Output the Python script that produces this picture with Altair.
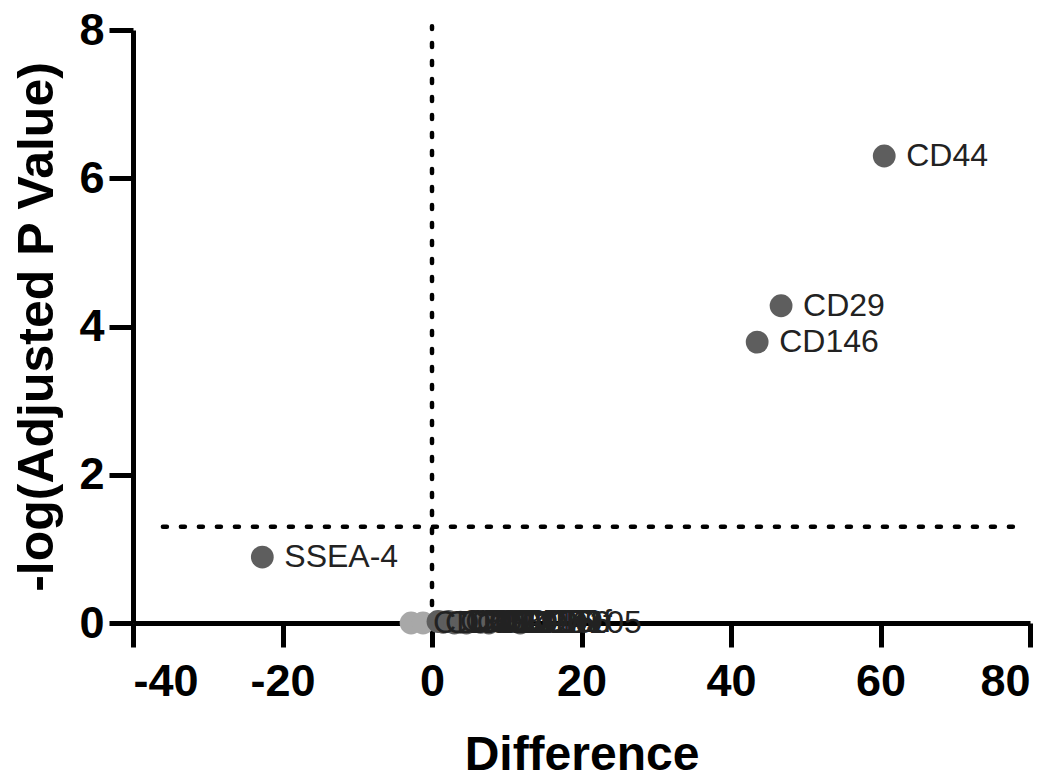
import altair as alt
import pandas as pd

# Main labelled points
markers = ["CD44", "CD29", "CD146", "SSEA-4"]
difference = [60.5, 46.7, 43.5, -22.7]
neglog_p = [6.3, 4.28, 3.79, 0.89]

# Cluster of non-significant markers at ~0
cluster_markers = ["CD34", "CD45", "CD73", "CD90", "CD14", "CD19", "HLA-DR", "CD11b", "CD106", "CD271", "CD166", "CD49f", "CD105"]
cluster_difference = [-2.8, -1.2, 0.8, 1.5, 2.2, 3.0, 3.8, 4.6, 5.5, 6.5, 7.6, 9.0, 11.8]
cluster_neglog_p = [0.0, 0.0, 0.02, 0.01, 0.02, 0.0, 0.01, 0.0, 0.02, 0.01, 0.0, 0.02, 0.0]
cluster_shade = ["light", "light", "dark", "dark", "dark", "dark", "dark", "dark", "dark", "dark", "dark", "dark", "dark"]

# Reference lines
threshold_y = [1.3]
threshold_x_span = [-36, 78]
zero_x = [0]
zero_y_span = [0, 8.05]

x_ticks = [-40, -20, 0, 20, 40, 60, 80]
y_ticks = [0, 2, 4, 6, 8]

pts = pd.DataFrame({
    "marker": markers + cluster_markers,
    "diff": difference + cluster_difference,
    "p": neglog_p + cluster_neglog_p,
    "shade": ["dark"] * len(markers) + cluster_shade,
})

xs = alt.Scale(domain=[-40, 80], nice=False, zero=False)
ys = alt.Scale(domain=[0, 8], nice=False, zero=False)

font = "Liberation Sans"

hline = alt.Chart(pd.DataFrame({"y": threshold_y, "x": [threshold_x_span[0]], "x2": [threshold_x_span[1]]})).mark_rule(
    color="black", strokeWidth=4.5, strokeDash=[4, 14], strokeCap="round"
).encode(x=alt.X("x:Q", scale=xs), x2="x2:Q", y=alt.Y("y:Q", scale=ys))

vline = alt.Chart(pd.DataFrame({"x": zero_x, "y": [zero_y_span[0]], "y2": [zero_y_span[1]]})).mark_rule(
    color="black", strokeWidth=4.5, strokeDash=[4, 14], strokeCap="round"
).encode(x=alt.X("x:Q", scale=xs), y=alt.Y("y:Q", scale=ys), y2="y2:Q")

points = alt.Chart(pts).mark_point(filled=True, size=520, opacity=1, shape="circle").encode(
    x=alt.X("diff:Q", scale=xs, title="Difference",
            axis=alt.Axis(values=x_ticks, grid=False, domainWidth=5, domainColor="black",
                          labelExpr="datum.value < 0 ? '-' + abs(datum.value) : '' + datum.value",
                          tickWidth=5, tickSize=24, tickColor="black", labelFontSize=45, labelFont=font,
                          labelFontWeight="bold", labelColor="black", labelPadding=12, titleFontSize=48,
                          titleFont=font, titleFontWeight="bold", titleColor="black", titlePadding=27)),
    y=alt.Y("p:Q", scale=ys, title="-log(Adjusted P Value)",
            axis=alt.Axis(values=y_ticks, grid=False, domainWidth=5, domainColor="black", format="d",
                          tickWidth=5, tickSize=24, tickColor="black", labelFontSize=45, labelFont=font,
                          labelFontWeight="bold", labelColor="black", labelPadding=5, titleFontSize=50,
                          titleFont=font, titleFontWeight="bold", titleColor="black", titlePadding=16)),
    color=alt.Color("shade:N", scale=alt.Scale(domain=["dark", "light"], range=["#5e5e5e", "#a8a8a8"]), legend=None),
)

labels = alt.Chart(pts).mark_text(align="left", baseline="middle", dx=22, fontSize=32, font=font, color="#222222").encode(
    x=alt.X("diff:Q", scale=xs), y=alt.Y("p:Q", scale=ys), text="marker:N"
)

chart = alt.layer(hline, vline, points, labels).properties(
    width=897, height=593,
    padding={"left": 133, "top": 30, "right": 32, "bottom": 160},
    autosize=alt.AutoSizeParams(type="none"),
    background="white",
).configure_view(stroke=None)

chart.save("out.html", embed_options={"renderer": "svg", "actions": False})
